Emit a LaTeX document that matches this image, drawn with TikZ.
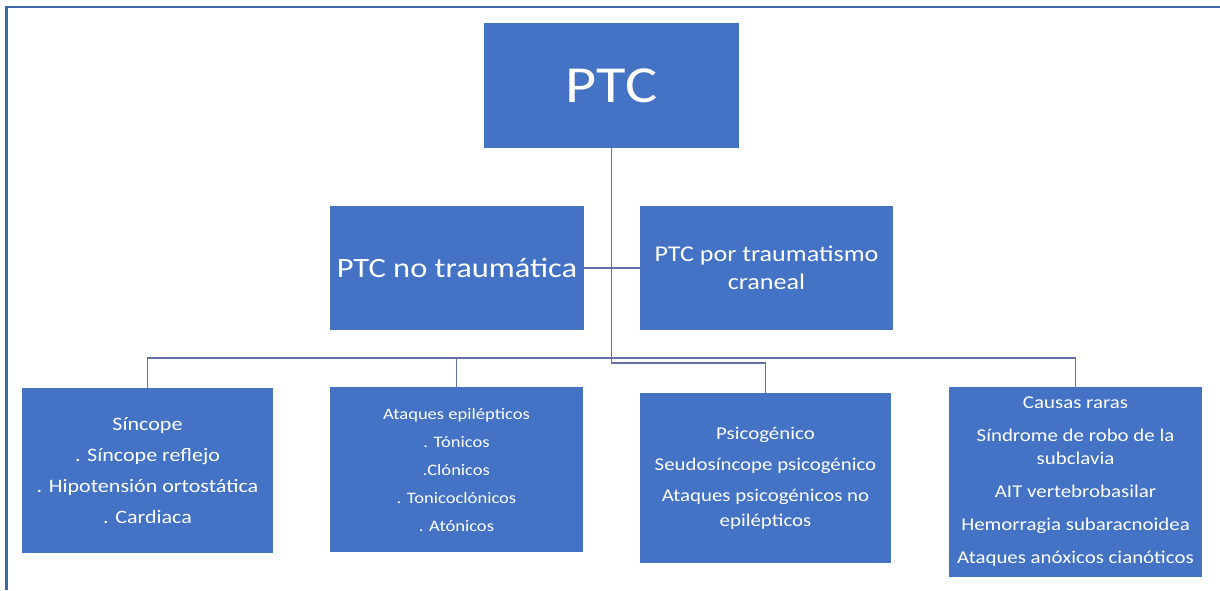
\documentclass[tikz,border=0pt]{standalone}
\usepackage{fontspec}
\setmainfont{Carlito}[FakeStretch=1.16]
\definecolor{boxblue}{HTML}{4472C4}
\definecolor{linkblue}{HTML}{6370A6}
\definecolor{frameblue}{HTML}{3A69A3}
\tikzset{
  box/.style={fill=boxblue, draw=none, text=white, inner sep=0pt, align=center},
  link/.style={draw=linkblue, line width=1.4pt},
}
\begin{document}
\begin{tikzpicture}[x=1pt, y=1pt]
  \useasboundingbox (0,0) rectangle (1220,-590);
  % outer frame: top and left edges
  \draw[frameblue, line width=2.4pt] (1220,-7) -- (6.5,-7) -- (6.5,-590);

  % root
  \node[box, minimum width=255pt, minimum height=125pt,
        font={\fontsize{52}{60}\selectfont}] (ptc) at (611.5,-85.5) {PTC};

  % second level
  \node[box, minimum width=254pt, minimum height=124pt,
        font={\fontsize{28}{34}\selectfont}] (nt) at (457,-268) {PTC no traumática};
  \node[box, minimum width=253pt, minimum height=124pt,
        font={\fontsize{22.5}{28}\selectfont}] (tc) at (766.5,-268) {PTC por traumatismo\\craneal};

  % third level
  \node[box, minimum width=251pt, minimum height=165pt,
        font={\fontsize{19}{31}\selectfont}] (sin) at (147.5,-470.5)
        {Síncope\\. Síncope reflejo\\. Hipotensión ortostática\\. Cardiaca};
  \node[box, minimum width=253pt, minimum height=165pt,
        font={\fontsize{16}{28}\selectfont}] (ata) at (456.5,-469.5)
        {Ataques epilépticos\\. Tónicos\\.Clónicos\\. Tonicoclónicos\\. Atónicos};
  \node[box, minimum width=251pt, minimum height=170pt,
        font={\fontsize{18}{25}\selectfont}] (psy) at (765.5,-478)
        {Psicogénico\\[6pt]Seudosíncope psicogénico\\[6pt]Ataques psicogénicos no\\epilépticos};
  \node[box, minimum width=253pt, minimum height=190pt,
        font={\fontsize{18}{23}\selectfont}] (cau) at (1075.5,-482)
        {Causas raras\\[10pt]Síndrome de robo de la\\subclavia\\[10pt]AIT vertebrobasilar\\[10pt]Hemorragia subaracnoidea\\[10pt]Ataques anóxicos cianóticos};

  % bus heights
  \coordinate (bus) at (0,-358);
  \coordinate (bustwo) at (0,-363);

  % connectors
  \draw[link] (nt.east) -- (tc.west);
  \draw[link] (ptc.south) -- (ptc.south |- bustwo) -| (psy.north);
  \draw[link] (sin.north) |- (bus -| cau.north) -- (cau.north);
  \draw[link] (ata.north) -- (ata.north |- bus);
\end{tikzpicture}
\end{document}
